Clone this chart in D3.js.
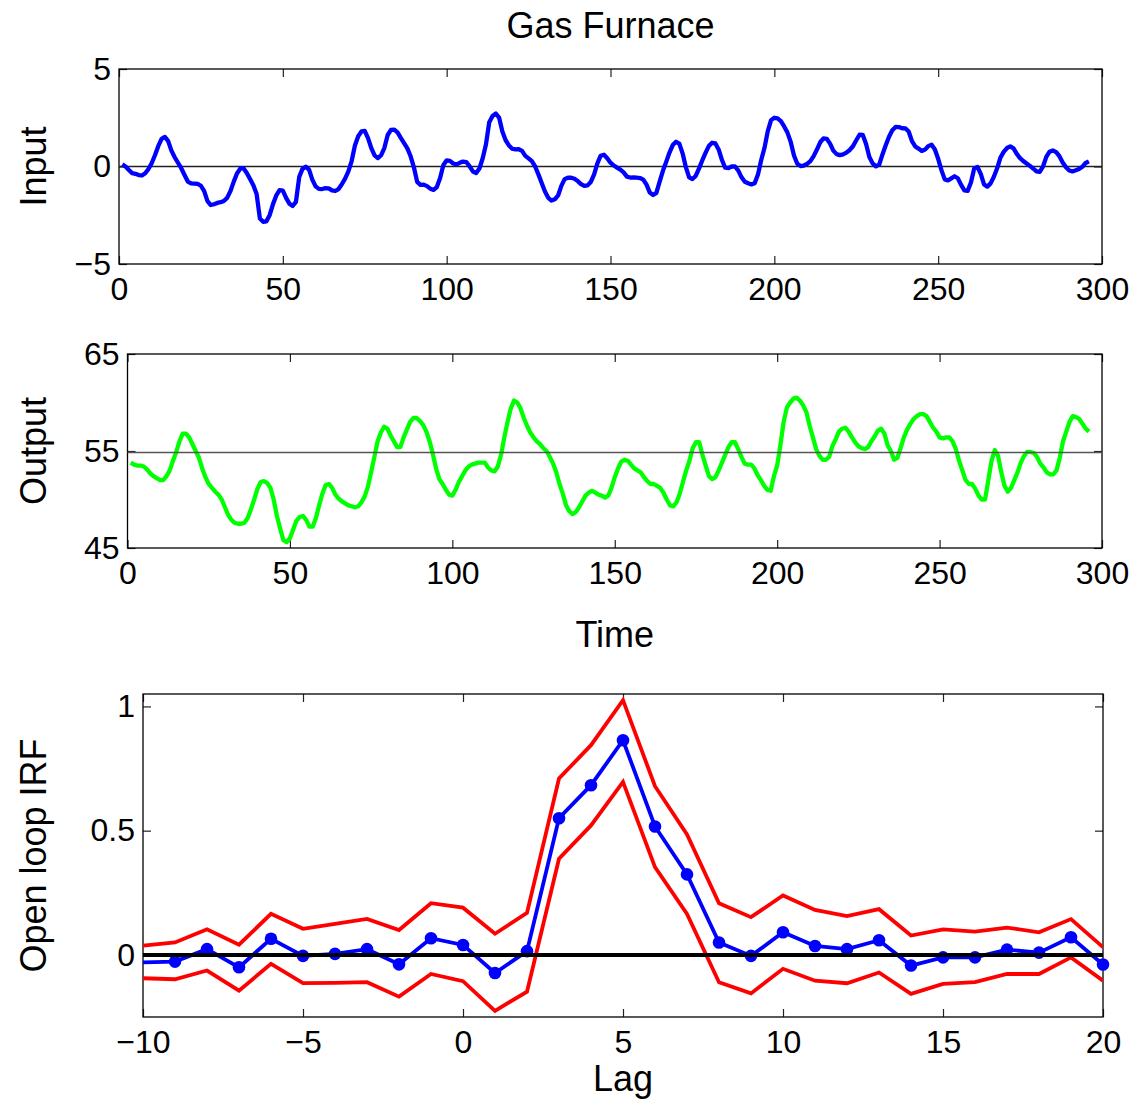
<!DOCTYPE html>
<html>
<head>
<meta charset="utf-8">
<script src="https://cdn.jsdelivr.net/npm/d3@7"></script>
<style>
  body { margin: 0; background: #fff; }
  svg text { font-family: "Liberation Sans", Arial, Helvetica, sans-serif; fill: #000; }
</style>
</head>
<body>
<script>
// input series as plotted, t = 1..296
const inputSeries = [
  0.109, 0, -0.178, -0.339, -0.373, -0.441, -0.461, -0.348, -0.127, 0.180,
  0.588, 1.055, 1.421, 1.520, 1.302, 0.814, 0.475, 0.193, -0.088, -0.435,
  -0.771, -0.866, -0.875, -0.891, -0.987, -1.263, -1.775, -1.976, -1.934, -1.866,
  -1.832, -1.767, -1.608, -1.265, -0.790, -0.360, -0.115, -0.088, -0.331, -0.645,
  -0.960, -1.409, -2.670, -2.834, -2.812, -2.483, -1.929, -1.485, -1.214, -1.239,
  -1.608, -1.905, -2.023, -1.815, -0.535, -0.122, -0.009, -0.164, -0.671, -1.019,
  -1.146, -1.155, -1.112, -1.121, -1.223, -1.257, -1.157, -0.913, -0.620, -0.255,
  0.280, 1.080, 1.551, 1.799, 1.825, 1.456, 0.944, 0.570, 0.431, 0.577,
  0.960, 1.616, 1.875, 1.891, 1.746, 1.474, 1.201, 0.927, 0.524, -0.040,
  -0.788, -0.943, -0.930, -1.006, -1.137, -1.198, -1.054, -0.595, 0.080, 0.314,
  0.288, 0.153, 0.109, 0.187, 0.255, 0.229, 0.007, -0.254, -0.330, -0.102,
  0.423, 1.139, 2.275, 2.594, 2.716, 2.510, 1.790, 1.346, 1.081, 0.910,
  0.876, 0.885, 0.800, 0.544, 0.416, 0.271, 0, -0.403, -0.841, -1.285,
  -1.607, -1.746, -1.683, -1.485, -0.993, -0.648, -0.577, -0.577, -0.632, -0.747,
  -0.900, -0.993, -0.968, -0.790, -0.399, 0.161, 0.553, 0.603, 0.424, 0.194,
  0.049, -0.060, -0.161, -0.301, -0.517, -0.566, -0.560, -0.573, -0.592, -0.671,
  -0.933, -1.337, -1.460, -1.353, -0.772, -0.218, 0.237, 0.714, 1.099, 1.269,
  1.175, 0.676, -0.033, -0.556, -0.643, -0.484, -0.109, 0.310, 0.697, 1.047,
  1.218, 1.183, 0.873, 0.336, -0.063, -0.084, 0, -0.001, -0.209, -0.556,
  -0.782, -0.858, -0.918, -0.862, -0.416, 0.336, 0.959, 1.813, 2.378, 2.499,
  2.473, 2.330, 2.053, 1.739, 1.261, 0.569, 0.137, 0.024, 0.050, 0.135,
  0.276, 0.534, 0.871, 1.243, 1.439, 1.422, 1.175, 0.813, 0.634, 0.582,
  0.625, 0.713, 0.848, 1.039, 1.346, 1.628, 1.619, 1.149, 0.488, 0.160,
  0.007, 0.092, 0.620, 1.086, 1.525, 1.858, 2.029, 2.024, 1.961, 1.952,
  1.794, 1.302, 1.030, 0.918, 0.798, 0.867, 1.047, 1.123, 0.876, 0.395,
  -0.185, -0.662, -0.709, -0.605, -0.501, -0.603, -0.943, -1.223, -1.249, -0.824,
  -0.102, -0.025, -0.382, -0.922, -1.032, -0.866, -0.527, -0.093, 0.458, 0.748,
  0.947, 1.029, 0.928, 0.645, 0.424, 0.276, 0.158, 0.033, -0.102, -0.251,
  -0.280, 0, 0.493, 0.759, 0.824, 0.740, 0.528, 0.204, -0.034, -0.204,
  -0.253, -0.195, -0.131, -0.017, 0.182, 0.262
];

// output series, t = 1..296
const outputSeries = [
  53.8, 53.6, 53.5, 53.5, 53.4, 53.1, 52.7, 52.4, 52.2, 52.0,
  52.0, 52.4, 53.0, 54.0, 54.9, 56.0, 56.8, 56.8, 56.4, 55.7,
  55.0, 54.3, 53.2, 52.3, 51.6, 51.2, 50.8, 50.5, 50.0, 49.2,
  48.4, 47.9, 47.6, 47.5, 47.5, 47.6, 48.1, 49.0, 50.0, 51.1,
  51.8, 51.9, 51.7, 51.2, 50.0, 48.3, 47.0, 45.8, 45.6, 46.0,
  46.9, 47.8, 48.2, 48.3, 47.9, 47.2, 47.2, 48.1, 49.4, 50.6,
  51.5, 51.6, 51.2, 50.5, 50.1, 49.8, 49.6, 49.4, 49.3, 49.2,
  49.3, 49.7, 50.3, 51.3, 52.8, 54.4, 56.0, 56.9, 57.5, 57.3,
  56.6, 56.0, 55.4, 55.4, 56.4, 57.2, 58.0, 58.4, 58.4, 58.1,
  57.7, 57.0, 56.0, 54.7, 53.2, 52.1, 51.6, 51.0, 50.5, 50.4,
  51.0, 51.8, 52.4, 53.0, 53.4, 53.6, 53.7, 53.8, 53.8, 53.8,
  53.3, 53.0, 52.9, 53.4, 54.6, 56.4, 58.0, 59.4, 60.2, 60.0,
  59.4, 58.4, 57.6, 56.9, 56.4, 56.0, 55.7, 55.3, 55.0, 54.4,
  53.7, 52.8, 51.6, 50.6, 49.4, 48.8, 48.5, 48.7, 49.2, 49.8,
  50.4, 50.7, 50.9, 50.7, 50.5, 50.4, 50.2, 50.4, 51.2, 52.3,
  53.2, 53.9, 54.1, 54.0, 53.6, 53.2, 53.0, 52.8, 52.3, 51.9,
  51.6, 51.6, 51.4, 51.2, 50.7, 50.0, 49.4, 49.3, 49.7, 50.6,
  51.8, 53.0, 54.0, 55.3, 55.9, 55.9, 54.6, 53.5, 52.4, 52.1,
  52.3, 53.0, 53.8, 54.6, 55.4, 55.9, 55.9, 55.2, 54.4, 53.7,
  53.6, 53.6, 53.2, 52.5, 52.0, 51.4, 51.0, 50.9, 52.4, 53.5,
  55.6, 58.0, 59.5, 60.0, 60.4, 60.5, 60.2, 59.7, 59.0, 57.6,
  56.4, 55.2, 54.5, 54.1, 54.1, 54.4, 55.5, 56.2, 57.0, 57.3,
  57.4, 57.0, 56.4, 55.9, 55.5, 55.3, 55.2, 55.4, 56.0, 56.5,
  57.1, 57.3, 56.8, 55.6, 55.0, 54.1, 54.3, 55.3, 56.4, 57.2,
  57.8, 58.3, 58.6, 58.8, 58.8, 58.6, 58.0, 57.4, 57.0, 56.4,
  56.3, 56.4, 56.4, 56.0, 55.2, 54.0, 53.0, 52.0, 51.6, 51.6,
  51.1, 50.4, 50.0, 50.0, 52.0, 54.0, 55.1, 54.5, 52.8, 51.4,
  50.8, 51.2, 52.0, 52.8, 53.8, 54.5, 54.9, 54.9, 54.8, 54.4,
  53.7, 53.3, 52.8, 52.6, 52.6, 53.0, 54.3, 56.0, 57.0, 58.0,
  58.6, 58.5, 58.3, 57.8, 57.3, 57.0
];

const inputRef = 0;
const outputRef = 54.85;

// open loop impulse response
const lags = [-10, -9, -8, -7, -6, -5, -4, -3, -2, -1, 0, 1, 2, 3, 4, 5, 6, 7, 8, 9, 10,
  11, 12, 13, 14, 15, 16, 17, 18, 19, 20];
const irfEstimate = [-0.03, -0.027, 0.023, -0.05, 0.065, -0.004, 0.004, 0.023, -0.038, 0.067, 0.04,
  -0.073, 0.015, 0.55, 0.683, 0.864, 0.517, 0.324, 0.05, -0.004, 0.091,
  0.036, 0.023, 0.059, -0.043, -0.01, -0.01, 0.021, 0.009, 0.071, -0.039];
const irfUpper = [0.037, 0.05, 0.103, 0.041, 0.165, 0.105, 0.125, 0.145, 0.1, 0.208, 0.19,
  0.085, 0.169, 0.71, 0.844, 1.025, 0.679, 0.485, 0.208, 0.152, 0.239,
  0.181, 0.156, 0.184, 0.078, 0.103, 0.094, 0.11, 0.091, 0.144, 0.031];
const irfLower = [-0.094, -0.098, -0.063, -0.144, -0.036, -0.114, -0.113, -0.11, -0.168, -0.077, -0.106,
  -0.225, -0.148, 0.387, 0.521, 0.696, 0.353, 0.165, -0.11, -0.155, -0.056,
  -0.104, -0.114, -0.071, -0.157, -0.117, -0.11, -0.077, -0.077, -0.01, -0.104];

const timeTicks = [0, 50, 100, 150, 200, 250, 300];
const inputTicks = [-5, 0, 5];
const outputTicks = [45, 55, 65];
const lagTicks = [-10, -5, 0, 5, 10, 15, 20];
const irfTicks = [0, 0.5, 1];

const w = 1133;
const h = 1100;
const tickFont = 32;
const labelFont = 36;

const svg = d3.select("body")
  .append("svg")
  .attr("width", w)
  .attr("height", h);

const fmt = d3.format("~g");

// draws a MATLAB style box with inward ticks on all four sides
function drawFrame(box, x, y, xTicks, yTicks) {
  const iw = box.right - box.left;
  const ih = box.bottom - box.top;
  const g = svg.append("g").attr("transform", `translate(${box.left},${box.top})`);

  const style = sel => {
    sel.select(".domain").remove();
    sel.selectAll(".tick line").attr("stroke", "#222").attr("stroke-width", 1.2);
    sel.selectAll(".tick text").attr("font-size", tickFont)
      .attr("font-family", '"Liberation Sans", Arial, Helvetica, sans-serif').attr("fill", "#000");
  };

  g.append("g").attr("transform", `translate(0,${ih})`)
    .call(d3.axisBottom(x).tickValues(xTicks).tickFormat(fmt).tickSizeInner(-8).tickSizeOuter(0).tickPadding(13))
    .call(style);
  g.append("g")
    .call(d3.axisTop(x).tickValues(xTicks).tickFormat("").tickSizeInner(-8).tickSizeOuter(0))
    .call(style);
  g.append("g")
    .call(d3.axisLeft(y).tickValues(yTicks).tickFormat(fmt).tickSizeInner(-8).tickSizeOuter(0).tickPadding(8))
    .call(style);
  g.append("g").attr("transform", `translate(${iw},0)`)
    .call(d3.axisRight(y).tickValues(yTicks).tickFormat("").tickSizeInner(-8).tickSizeOuter(0))
    .call(style);

  g.append("rect")
    .attr("width", iw)
    .attr("height", ih)
    .attr("fill", "none")
    .attr("stroke", "#000")
    .attr("stroke-width", 1.3);

  return g;
}

function yLabel(text, box) {
  svg.append("text")
    .attr("transform", `translate(46,${(box.top + box.bottom) / 2}) rotate(-90)`)
    .attr("text-anchor", "middle")
    .attr("font-size", labelFont)
    .text(text);
}

// ---- top: input ----
const box1 = { left: 119, right: 1102, top: 69, bottom: 264 };
const x1 = d3.scaleLinear().domain([0, 300]).range([0, box1.right - box1.left]);
const y1 = d3.scaleLinear().domain([-5, 5]).range([box1.bottom - box1.top, 0]);
const g1 = drawFrame(box1, x1, y1, timeTicks, inputTicks);

g1.append("line")
  .attr("x1", x1(0)).attr("x2", x1(300))
  .attr("y1", y1(inputRef)).attr("y2", y1(inputRef))
  .attr("stroke", "#222").attr("stroke-width", 1.3);

g1.append("path")
  .datum(inputSeries)
  .attr("fill", "none")
  .attr("stroke", "#0000ff")
  .attr("stroke-width", 4.3)
  .attr("stroke-linejoin", "round")
  .attr("d", d3.line().x((d, i) => x1(i + 1)).y(d => y1(d)));

svg.append("text")
  .attr("x", (box1.left + box1.right) / 2)
  .attr("y", 38)
  .attr("text-anchor", "middle")
  .attr("font-size", labelFont)
  .text("Gas Furnace");
yLabel("Input", box1);

// ---- middle: output ----
const box2 = { left: 127.5, right: 1102, top: 354, bottom: 548 };
const x2 = d3.scaleLinear().domain([0, 300]).range([0, box2.right - box2.left]);
const y2 = d3.scaleLinear().domain([45, 65]).range([box2.bottom - box2.top, 0]);
const g2 = drawFrame(box2, x2, y2, timeTicks, outputTicks);

g2.append("path")
  .datum(outputSeries)
  .attr("fill", "none")
  .attr("stroke", "#00ff00")
  .attr("stroke-width", 4.3)
  .attr("stroke-linejoin", "round")
  .attr("d", d3.line().x((d, i) => x2(i + 1)).y(d => y2(d)));

g2.append("line")
  .attr("x1", x2(0)).attr("x2", x2(300))
  .attr("y1", y2(outputRef)).attr("y2", y2(outputRef))
  .attr("stroke", "#555").attr("stroke-width", 1.5);

svg.append("text")
  .attr("x", (box2.left + box2.right) / 2)
  .attr("y", 647)
  .attr("text-anchor", "middle")
  .attr("font-size", labelFont)
  .text("Time");
yLabel("Output", box2);

// ---- bottom: open loop IRF ----
const box3 = { left: 143, right: 1103, top: 694, bottom: 1017 };
const x3 = d3.scaleLinear().domain([-10, 20]).range([0, box3.right - box3.left]);
const y3 = d3.scaleLinear().domain([-0.25, 1.05]).range([box3.bottom - box3.top, 0]);
const g3 = drawFrame(box3, x3, y3, lagTicks, irfTicks);

svg.append("clipPath").attr("id", "clip3")
  .append("rect")
  .attr("width", box3.right - box3.left)
  .attr("height", box3.bottom - box3.top);

const irf = lags.map((lag, i) => ({ lag: lag, est: irfEstimate[i], up: irfUpper[i], lo: irfLower[i] }));
const plot3 = g3.append("g").attr("clip-path", "url(#clip3)");

[["up", "#ff0000"], ["lo", "#ff0000"], ["est", "#0000ff"]].forEach(([key, color]) => {
  plot3.append("path")
    .datum(irf)
    .attr("fill", "none")
    .attr("stroke", color)
    .attr("stroke-width", 3.8)
    .attr("stroke-linejoin", "miter")
    .attr("d", d3.line().x(d => x3(d.lag)).y(d => y3(d[key])));
});

// marker at the left edge is not shown in the source (its series starts further left)
g3.selectAll("circle")
  .data(irf.filter(d => d.lag > -10))
  .enter()
  .append("circle")
  .attr("cx", d => x3(d.lag))
  .attr("cy", d => y3(d.est))
  .attr("r", 6.3)
  .attr("fill", "#0000ff");

g3.append("line")
  .attr("x1", x3(-10)).attr("x2", x3(20))
  .attr("y1", y3(0)).attr("y2", y3(0))
  .attr("stroke", "#000").attr("stroke-width", 4);

svg.append("text")
  .attr("x", (box3.left + box3.right) / 2)
  .attr("y", 1091)
  .attr("text-anchor", "middle")
  .attr("font-size", labelFont)
  .text("Lag");
yLabel("Open loop IRF", box3);
</script>
</body>
</html>
